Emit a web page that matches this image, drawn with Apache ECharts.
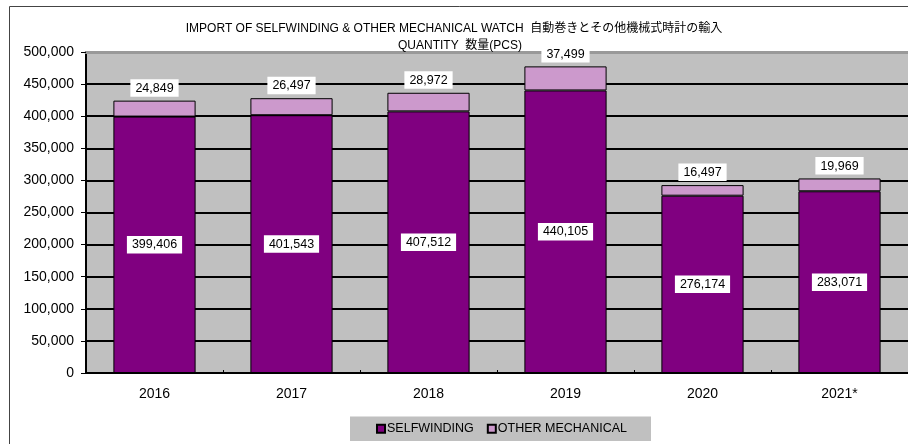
<!DOCTYPE html>
<html>
<head>
<meta charset="utf-8">
<script src="https://cdn.jsdelivr.net/npm/echarts@6/dist/echarts.min.js"></script>
<style>
  html, body { margin: 0; padding: 0; background: #fff; }
  #chart { width: 908px; height: 444px; }
</style>
</head>
<body>
<div id="chart"></div>
<script>
// 年度
const years = ['2016', '2017', '2018', '2019', '2020', '2021*']
// 自動巻き
const selfwinding = [399406, 401543, 407512, 440105, 276174, 283071]
// その他機械式
const otherMechanical = [24849, 26497, 28972, 37499, 16497, 19969]

const font = "'Liberation Sans', 'Noto Sans CJK JP', sans-serif"

const chart = echarts.init(document.getElementById('chart'))

// 値ラベル（白背景）
const labelBox = {
  show: true,
  color: '#000',
  fontSize: 12.5,
  fontFamily: font,
  backgroundColor: '#fff',
  padding: [3, 5, 2, 5],
  formatter: p => p.value.toLocaleString('en-US'),
}

const option = {
  animation: false,
  backgroundColor: '#fff',
  textStyle: { fontFamily: font },
  title: [
    {
      text: 'IMPORT OF SELFWINDING & OTHER MECHANICAL WATCH  自動巻きとその他機械式時計の輸入',
      left: 'center',
      top: 18,
      textStyle: { fontSize: 12, fontWeight: 'normal', color: '#000', fontFamily: font },
    },
    {
      text: 'QUANTITY  数量(PCS)',
      left: 455,
      top: 35,
      textAlign: 'center',
      textStyle: { fontSize: 12, fontWeight: 'normal', color: '#000', fontFamily: font },
    },
  ],
  legend: {
    bottom: 3,
    left: 350,
    backgroundColor: '#c0c0c0',
    padding: [6, 24, 6, 26],
    itemWidth: 8,
    itemHeight: 8,
    itemGap: 13,
    icon: 'rect',
    textStyle: { fontSize: 12.5, color: '#000', fontFamily: font, padding: [0, 0, 0, -3] },
    data: ['SELFWINDING', 'OTHER MECHANICAL'],
  },
  graphic: [
    {
      type: 'rect',
      shape: { x: 9.5, y: 6.5, width: 1000, height: 500 },
      style: { fill: 'none', stroke: '#444', lineWidth: 1 },
      z: 100,
    },
  ],
  grid: {
    left: 86,
    top: 52,
    width: 824,
    height: 321,
    backgroundColor: '#c0c0c0',
    show: true,
    borderWidth: 0,
  },
  xAxis: [
    {
      type: 'category',
      data: years,
      axisLine: { lineStyle: { color: '#000', width: 2 } },
      axisTick: { show: true, inside: true, length: 3, lineStyle: { color: '#000' } },
      axisLabel: { color: '#000', fontSize: 14, margin: 14, fontFamily: font },
    },
    {
      // 上端の灰色の枠線
      type: 'category',
      position: 'top',
      data: years,
      axisLine: { show: true, lineStyle: { color: '#999', width: 3 } },
      axisTick: { show: false },
      axisLabel: { show: false },
    },
  ],
  yAxis: {
    type: 'value',
    min: 0,
    max: 500000,
    interval: 50000,
    axisLine: { show: true, lineStyle: { color: '#000', width: 2 } },
    axisTick: { show: true, length: 5, lineStyle: { color: '#000' } },
    axisLabel: {
      color: '#000',
      fontSize: 14,
      margin: 12,
      fontFamily: font,
      formatter: v => v.toLocaleString('en-US'),
    },
    splitLine: { show: true, lineStyle: { width: 2, color: '#000' } },
  },
  series: [
    {
      name: 'SELFWINDING',
      type: 'bar',
      stack: 'total',
      barWidth: '60%',
      data: selfwinding,
      itemStyle: { color: '#800080', borderColor: '#000', borderWidth: 1 },
      label: Object.assign({}, labelBox, { position: 'inside' }),
    },
    {
      name: 'OTHER MECHANICAL',
      type: 'bar',
      stack: 'total',
      barWidth: '60%',
      data: otherMechanical,
      itemStyle: { color: '#cc99cc', borderColor: '#000', borderWidth: 1 },
      label: Object.assign({}, labelBox, { position: 'top', distance: 4 }),
    },
  ],
}

chart.setOption(option)
</script>
</body>
</html>
